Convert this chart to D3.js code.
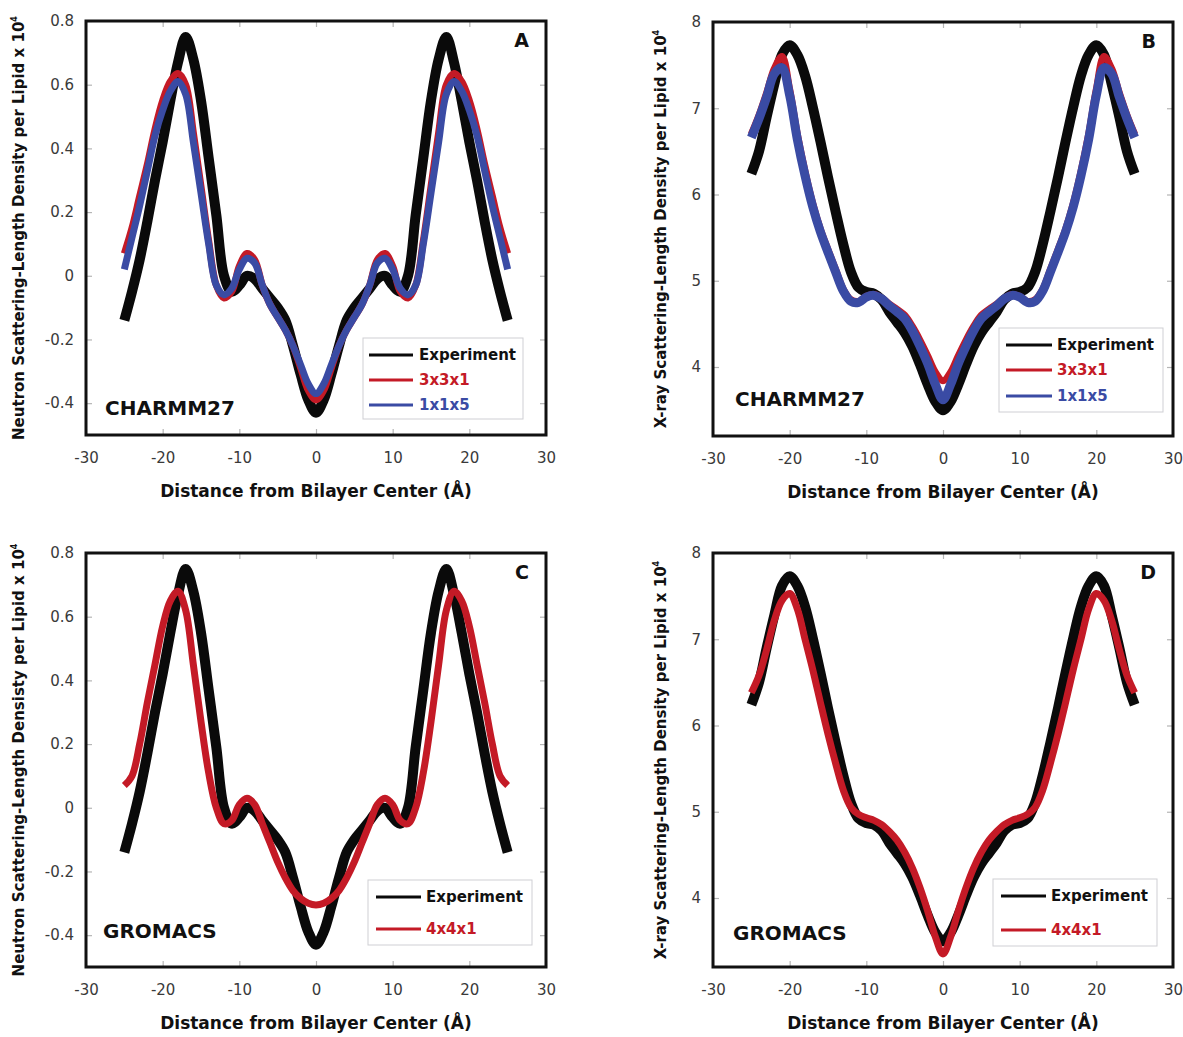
<!DOCTYPE html>
<html>
<head>
<meta charset="utf-8">
<script src="https://cdn.jsdelivr.net/npm/d3@7"></script>
<style>
  body { margin: 0; background: #fff; }
  svg { display: block; }
  text { font-family: "DejaVu Sans", Verdana, sans-serif; }
</style>
</head>
<body>
<svg id="fig" width="1183" height="1037"></svg>
<script>
// Distance from bilayer centre (Å) at which each profile is sampled
const distance = [-25,-24,-23,-22,-21,-20,-19,-18,-17,-16,-15,-14,-13,-12,-11,-10,-9,-8,-7,-6,-5,-4,-3,-2,-1,0,
                  1,2,3,4,5,6,7,8,9,10,11,12,13,14,15,16,17,18,19,20,21,22,23,24,25];

// Neutron scattering-length density per lipid (x 10^4)
const expNeutron = [-0.14,-0.05,0.05,0.17,0.30,0.42,0.55,0.67,0.75,0.68,0.55,0.37,0.19,0.00,-0.05,-0.03,0.00,-0.01,-0.04,-0.07,-0.10,-0.14,-0.22,-0.31,-0.39,-0.43,
                    -0.39,-0.31,-0.22,-0.14,-0.10,-0.07,-0.04,-0.01,0.00,-0.03,-0.05,0.00,0.19,0.37,0.55,0.68,0.75,0.67,0.55,0.42,0.30,0.17,0.05,-0.05,-0.14];
const charmm331Neutron = [0.07,0.15,0.25,0.35,0.46,0.55,0.61,0.635,0.60,0.45,0.28,0.11,-0.03,-0.07,-0.05,0.03,0.07,0.05,-0.03,-0.09,-0.13,-0.17,-0.22,-0.29,-0.36,-0.39,
                          -0.36,-0.29,-0.22,-0.17,-0.13,-0.09,-0.03,0.05,0.07,0.03,-0.05,-0.07,-0.03,0.11,0.28,0.45,0.60,0.635,0.61,0.55,0.46,0.35,0.25,0.15,0.07];
const charmm115Neutron = [0.02,0.12,0.22,0.33,0.44,0.52,0.58,0.61,0.57,0.42,0.26,0.10,-0.03,-0.06,-0.04,0.02,0.055,0.04,-0.03,-0.09,-0.13,-0.17,-0.22,-0.28,-0.34,-0.37,
                          -0.34,-0.28,-0.22,-0.17,-0.13,-0.09,-0.03,0.04,0.055,0.02,-0.04,-0.06,-0.03,0.10,0.26,0.42,0.57,0.61,0.58,0.52,0.44,0.33,0.22,0.12,0.02];
const gromacs441Neutron = [0.07,0.10,0.20,0.33,0.45,0.57,0.65,0.68,0.62,0.45,0.27,0.11,0.00,-0.05,-0.04,0.01,0.03,0.01,-0.05,-0.11,-0.17,-0.22,-0.26,-0.285,-0.30,-0.305,
                           -0.30,-0.285,-0.26,-0.22,-0.17,-0.11,-0.05,0.01,0.03,0.01,-0.04,-0.05,0.00,0.11,0.27,0.45,0.62,0.68,0.65,0.57,0.45,0.33,0.20,0.10,0.07];

// X-ray scattering-length density per lipid (x 10^4)
const expXray = [6.24,6.50,6.90,7.28,7.62,7.73,7.62,7.38,7.02,6.62,6.20,5.80,5.42,5.10,4.92,4.87,4.85,4.78,4.64,4.52,4.40,4.24,4.03,3.80,3.60,3.50,
                 3.60,3.80,4.03,4.24,4.40,4.52,4.64,4.78,4.85,4.87,4.92,5.10,5.42,5.80,6.20,6.62,7.02,7.38,7.62,7.73,7.62,7.28,6.90,6.50,6.24];
const charmm331Xray = [6.70,6.92,7.18,7.46,7.60,7.22,6.70,6.27,5.90,5.60,5.36,5.13,4.90,4.78,4.76,4.82,4.84,4.80,4.73,4.67,4.60,4.47,4.31,4.13,3.94,3.84,
                       3.94,4.13,4.31,4.47,4.60,4.67,4.73,4.80,4.84,4.82,4.76,4.78,4.90,5.13,5.36,5.60,5.90,6.27,6.70,7.22,7.60,7.46,7.18,6.92,6.70];
const charmm115Xray = [6.66,6.88,7.13,7.40,7.47,7.15,6.64,6.22,5.86,5.57,5.33,5.10,4.88,4.76,4.75,4.81,4.83,4.79,4.71,4.64,4.56,4.42,4.24,4.04,3.80,3.62,
                       3.80,4.04,4.24,4.42,4.56,4.64,4.71,4.79,4.83,4.81,4.75,4.76,4.88,5.10,5.33,5.57,5.86,6.22,6.64,7.15,7.47,7.40,7.13,6.88,6.66];
const gromacs441Xray = [6.38,6.58,6.88,7.22,7.45,7.53,7.35,7.00,6.65,6.27,5.90,5.56,5.25,5.05,4.97,4.93,4.90,4.85,4.77,4.67,4.53,4.35,4.12,3.85,3.55,3.35,
                        3.55,3.85,4.12,4.35,4.53,4.67,4.77,4.85,4.90,4.93,4.97,5.05,5.25,5.56,5.90,6.27,6.65,7.00,7.35,7.53,7.45,7.22,6.88,6.58,6.38];

// Axis ticks and labels
const xTicks = [-30,-20,-10,0,10,20,30];
const xTickLabels = ["-30","-20","-10","0","10","20","30"];
const neutronTicks = [-0.4,-0.2,0,0.2,0.4,0.6,0.8];
const neutronTickLabels = ["-0.4","-0.2","0","0.2","0.4","0.6","0.8"];
const xrayTicks = [4,5,6,7,8];
const xrayTickLabels = ["4","5","6","7","8"];

const BLACK = "#0a0a0a", RED = "#c41a26", BLUE = "#3a4ba4";

const panels = [
  { letter: "A", left: 86, top: 21, yDomain: [-0.5, 0.8], ticks: neutronTicks, tickLabels: neutronTickLabels,
    yTitle: "Neutron Scattering-Length Density per Lipid x 10", yTitleX: -62.5, model: "CHARMM27", modelPos: [19, 394],
    series: [
      { name: "Experiment", values: expNeutron, color: BLACK, width: 10 },
      { name: "3x3x1", values: charmm331Neutron, color: RED, width: 7 },
      { name: "1x1x5", values: charmm115Neutron, color: BLUE, width: 7 }],
    legend: { x: 277, y: 317, w: 160, h: 81, rows: [334, 359, 384], line: [283, 327], text: 333 } },
  { letter: "B", left: 713, top: 22, yDomain: [3.2, 8], ticks: xrayTicks, tickLabels: xrayTickLabels,
    yTitle: "X-ray Scattering-Length Density per Lipid x 10", yTitleX: -47.5, model: "CHARMM27", modelPos: [22, 384],
    series: [
      { name: "Experiment", values: expXray, color: BLACK, width: 10 },
      { name: "3x3x1", values: charmm331Xray, color: RED, width: 7 },
      { name: "1x1x5", values: charmm115Xray, color: BLUE, width: 9 }],
    legend: { x: 286, y: 306, w: 164, h: 84, rows: [323, 348, 374], line: [293, 339], text: 344 } },
  { letter: "C", left: 86, top: 553, yDomain: [-0.5, 0.8], ticks: neutronTicks, tickLabels: neutronTickLabels,
    yTitle: "Neutron Scattering-Length Densisty per Lipid x 10", yTitleX: -62.5, model: "GROMACS", modelPos: [17, 385],
    series: [
      { name: "Experiment", values: expNeutron, color: BLACK, width: 10 },
      { name: "4x4x1", values: gromacs441Neutron, color: RED, width: 7 }],
    legend: { x: 282, y: 327, w: 164, h: 65, rows: [344, 376], line: [290, 335], text: 340 } },
  { letter: "D", left: 713, top: 553, yDomain: [3.2, 8], ticks: xrayTicks, tickLabels: xrayTickLabels,
    yTitle: "X-ray Scattering-Length Density per Lipid x 10", yTitleX: -47.5, model: "GROMACS", modelPos: [20, 387],
    series: [
      { name: "Experiment", values: expXray, color: BLACK, width: 10 },
      { name: "4x4x1", values: gromacs441Xray, color: RED, width: 7 }],
    legend: { x: 280, y: 326, w: 164, h: 67, rows: [343, 377], line: [288, 333], text: 338 } }
];

const W = 460, H = 414;
const svg = d3.select("#fig");

function drawPanel(p) {
  const g = svg.append("g").attr("transform", `translate(${p.left},${p.top})`);
  const x = d3.scaleLinear().domain([-30, 30]).range([0, W]);
  const y = d3.scaleLinear().domain(p.yDomain).range([H, 0]);

  const tickGrey = "#b5b5b5";
  const styleAxis = sel => {
    sel.select(".domain").remove();
    sel.selectAll(".tick line").attr("stroke", tickGrey).attr("stroke-width", 1.2);
    sel.selectAll(".tick text").attr("fill", "#3a3a3a").style("font-size", "15px")
      .style("font-family", '"DejaVu Sans", Verdana, sans-serif');
  };

  g.append("g").call(d3.axisLeft(y).tickValues(p.ticks).tickFormat((d, i) => p.tickLabels[i])
      .tickSizeInner(-6).tickSizeOuter(0).tickPadding(12)).call(styleAxis);
  g.append("g").attr("transform", `translate(${W},0)`)
    .call(d3.axisRight(y).tickValues(p.ticks).tickFormat("").tickSizeInner(-6).tickSizeOuter(0)).call(styleAxis);
  g.append("g").attr("transform", `translate(0,${H})`)
    .call(d3.axisBottom(x).tickValues(xTicks).tickFormat((d, i) => xTickLabels[i])
      .tickSizeInner(-6).tickSizeOuter(0).tickPadding(17)).call(styleAxis);
  g.append("g")
    .call(d3.axisTop(x).tickValues(xTicks).tickFormat("").tickSizeInner(-6).tickSizeOuter(0)).call(styleAxis);

  // density profiles
  p.series.forEach(s => {
    const line = d3.line()
      .x((d, i) => x(distance[i]))
      .y(d => y(d))
      .curve(d3.curveCatmullRom.alpha(0.5));
    g.append("path").datum(s.values)
      .attr("d", line)
      .attr("fill", "none")
      .attr("stroke", s.color)
      .attr("stroke-width", s.width)
      .attr("stroke-linejoin", "round")
      .attr("stroke-linecap", "butt");
  });

  // frame
  g.append("rect").attr("width", W).attr("height", H)
    .attr("fill", "none").attr("stroke", "#111").attr("stroke-width", 3);

  // panel letter
  g.append("text").attr("x", W - 17).attr("y", 26).attr("text-anchor", "end")
    .style("font-weight", "bold").style("font-size", "19px").attr("fill", "#111").text(p.letter);

  // force-field label
  g.append("text").attr("x", p.modelPos[0]).attr("y", p.modelPos[1])
    .style("font-weight", "bold").style("font-size", "20px").attr("fill", "#111").text(p.model);

  // legend
  const L = p.legend;
  g.append("rect").attr("x", L.x).attr("y", L.y).attr("width", L.w).attr("height", L.h)
    .attr("fill", "#fff").attr("stroke", "#cfcfd4").attr("stroke-width", 1);
  p.series.forEach((s, i) => {
    g.append("line").attr("x1", L.line[0]).attr("x2", L.line[1])
      .attr("y1", L.rows[i]).attr("y2", L.rows[i])
      .attr("stroke", s.color).attr("stroke-width", 3);
    g.append("text").attr("x", L.text).attr("y", L.rows[i]).attr("dy", "0.36em")
      .style("font-weight", "bold").style("font-size", "15px")
      .attr("fill", s.color === BLACK ? "#111" : s.color).text(s.name);
  });

  // x-axis title
  g.append("text").attr("x", W / 2).attr("y", H + 62).attr("text-anchor", "middle")
    .style("font-weight", "bold").style("font-size", "17px").attr("fill", "#111")
    .text("Distance from Bilayer Center (Å)");

  // y-axis title with superscript exponent
  const yt = g.append("text")
    .attr("transform", `translate(${p.yTitleX},${H / 2}) rotate(-90)`)
    .attr("text-anchor", "middle")
    .style("font-weight", "bold").style("font-size", "15px").attr("fill", "#111");
  yt.append("tspan").text(p.yTitle);
  yt.append("tspan").attr("dy", -7).style("font-size", "8px").text("4");
}

panels.forEach(drawPanel);
</script>
</body>
</html>
